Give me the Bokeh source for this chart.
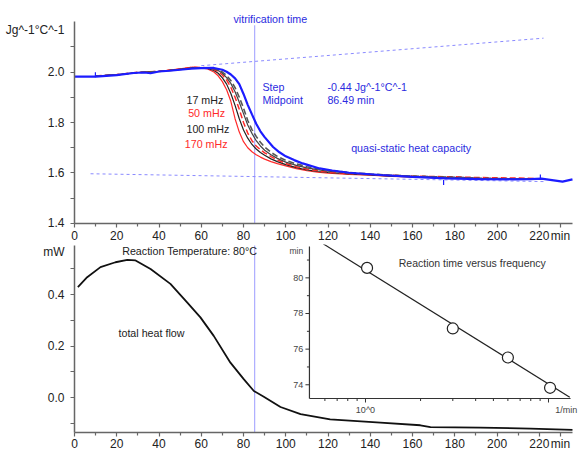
import numpy as np
from bokeh.plotting import figure
from bokeh.models import Range1d, FixedTicker, Label, LogScale, PrintfTickFormatter
from bokeh.layouts import column
from bokeh.core.properties import value
from bokeh.embed import file_html
from bokeh.resources import INLINE

FONT = "Liberation Sans"

# ---------------- data: top panel (reversing heat capacity) ----------------
t_qs = [0, 10, 20, 28, 33, 36, 40, 45, 50, 55, 60, 66, 70, 72, 74, 76, 78, 80, 82, 84, 86, 88,
        90, 94, 97, 100, 104, 108, 116, 122, 130, 145, 160, 176, 192, 208, 216, 221, 226, 231, 235.7]
cp_qs = [1.982, 1.982, 1.988, 1.996, 1.998, 1.995, 2.002, 2.005, 2.009, 2.013, 2.015, 2.016, 2.009,
         2.001, 1.990, 1.975, 1.952, 1.913, 1.870, 1.832, 1.795, 1.765, 1.742, 1.703, 1.682, 1.666,
         1.651, 1.638, 1.618, 1.610, 1.601, 1.592, 1.585, 1.579, 1.576, 1.575, 1.576, 1.578, 1.572,
         1.566, 1.575]

t_f = [10, 20, 30, 40, 50, 56, 60, 63, 66, 68, 70, 72, 74, 76, 78, 80, 82, 84, 86, 88, 90, 93, 96,
       100, 105, 110, 115, 120, 130, 140, 150, 160, 170, 180, 190, 200, 210, 218]
cp_17 = [1.984, 1.989, 1.998, 2.002, 2.010, 2.015, 2.016, 2.016, 2.014, 2.009, 2.000, 1.986, 1.966,
         1.938, 1.900, 1.857, 1.808, 1.772, 1.745, 1.722, 1.703, 1.682, 1.666, 1.650, 1.636, 1.625,
         1.617, 1.611, 1.602, 1.596, 1.591, 1.588, 1.585, 1.583, 1.580, 1.578, 1.577, 1.577]
cp_mid = [1.984, 1.989, 1.998, 2.002, 2.011, 2.016, 2.017, 2.016, 2.012, 2.006, 1.995, 1.978, 1.955,
          1.922, 1.880, 1.835, 1.790, 1.757, 1.728, 1.707, 1.690, 1.672, 1.658, 1.643, 1.630, 1.620,
          1.613, 1.607, 1.600, 1.594, 1.590, 1.587, 1.584, 1.582, 1.579, 1.578, 1.577, 1.577]
cp_50 = [1.984, 1.990, 1.999, 2.003, 2.012, 2.019, 2.018, 2.016, 2.010, 2.002, 1.988, 1.968, 1.940,
         1.900, 1.852, 1.800, 1.758, 1.728, 1.707, 1.692, 1.680, 1.665, 1.652, 1.638, 1.625, 1.616,
         1.609, 1.604, 1.598, 1.594, 1.591, 1.588, 1.586, 1.585, 1.582, 1.581, 1.580, 1.578]
cp_100 = [1.984, 1.989, 1.998, 2.002, 2.011, 2.016, 2.016, 2.014, 2.006, 1.995, 1.977, 1.952, 1.915,
          1.868, 1.815, 1.770, 1.738, 1.713, 1.695, 1.681, 1.670, 1.656, 1.645, 1.633, 1.621, 1.612,
          1.606, 1.602, 1.596, 1.592, 1.588, 1.585, 1.583, 1.581, 1.579, 1.578, 1.577, 1.576]
cp_170 = [1.984, 1.989, 1.998, 2.003, 2.013, 2.019, 2.016, 2.012, 2.000, 1.985, 1.962, 1.930, 1.884,
          1.815, 1.762, 1.724, 1.700, 1.684, 1.672, 1.663, 1.655, 1.645, 1.637, 1.628, 1.617, 1.609,
          1.603, 1.599, 1.594, 1.591, 1.587, 1.585, 1.582, 1.581, 1.579, 1.578, 1.577, 1.577]

mark_t = [9.9, 174.7, 220.5]
mark_cp = [1.989, 1.562, 1.584]

glass_line_t = [60, 222]
glass_line_cp = [2.025, 2.134]
liquid_line_t = [7.6, 222]
liquid_line_cp = [1.597, 1.566]

vitrification_time = 85.3
TOP_Y_BOUNDS = (1.4, 2.2)
vline_top_cp = [1.4, 2.185]

# ---------------- data: bottom panel (total heat flow) ----------------
t_hf = [1.6, 6.0, 12.3, 19.4, 25.0, 28.9, 36.0, 45.4, 53.3, 59.6, 65.9, 73.8, 80.1, 84.9, 89.6,
        97.5, 107, 121, 144.8, 163.7, 168.5, 192, 215.8, 235.7]
hf = [0.429, 0.468, 0.507, 0.526, 0.535, 0.533, 0.500, 0.442, 0.370, 0.312, 0.240, 0.136, 0.072,
      0.026, 0.004, -0.036, -0.064, -0.084, -0.097, -0.107, -0.114, -0.116, -0.120, -0.125]
BOT_Y_BOUNDS = (-0.137, 0.591)

# ---------------- data: inset (reaction time vs frequency) ----------------
freq = [1.02, 3.0, 6.0, 10.2]            # 1/min (17, 50, 100, 170 mHz)
reaction_time = [80.56, 77.16, 75.53, 73.83]
fit_freq = [0.587, 13.07]
fit_time = [81.91, 73.30]
inset_x_bounds = [0.494, 13.2]
inset_y_bounds = [73.23, 81.76]
inset_y_major = [74, 76, 78, 80]
inset_y_minor = [75, 77, 79, 81]
inset_x_major = [1, 10]
inset_x_minor = [0.6, 0.7, 0.8, 0.9, 2, 3, 4, 5, 6, 7, 8, 9]

# ---------------- axes ticks ----------------
x_major = list(range(0, 221, 20)) + [230]
x_minor = list(range(10, 211, 20))
x_overrides = {230: "min"}
top_y_labels = [1.4, 1.6, 1.8, 2.0, 2.168]
top_y_ticks = [1.4, 1.5, 1.6, 1.7, 1.8, 1.9, 2.0, 2.1]
top_y_overrides = {2.168: "Jg^-1°C^-1"}
bot_y_labels = [0.0, 0.2, 0.4, 0.572]
bot_y_ticks = [-0.1, 0.0, 0.1, 0.2, 0.3, 0.4, 0.5]
bot_y_overrides = {0.572: "mW"}

X_AXIS_BOUNDS = (0, 235.7)
X_START, X_END = -35.02, 239.97

BLUE_TXT = "#2b2be0"
RED = "#ff2a2a"


def style_axes(p, x_standoff, y_bounds):
    p.grid.visible = False
    p.outline_line_color = None
    p.background_fill_color = "white"
    p.border_fill_color = "white"
    for ax in p.axis:
        ax.axis_line_color = "#666666"
        ax.axis_line_width = 1.5
        ax.major_tick_line_color = "#666666"
        ax.minor_tick_line_color = "#666666"
        ax.major_tick_line_width = 1.2
        ax.minor_tick_line_width = 1.2
        ax.major_tick_in = 0
        ax.minor_tick_in = 0
        ax.major_label_text_font = FONT
        ax.major_label_text_font_size = "12px"
        ax.major_label_text_color = "#222222"
    p.xaxis.ticker = FixedTicker(ticks=x_major, minor_ticks=x_minor)
    p.xaxis.major_label_overrides = x_overrides
    p.xaxis.bounds = X_AXIS_BOUNDS
    p.xaxis.fixed_location = y_bounds[0]
    p.xaxis.major_tick_out = 4
    p.xaxis.minor_tick_out = 3
    p.xaxis.major_label_standoff = x_standoff
    # y axes: tick marks drawn as minor ticks, labels carried by (invisible) major ticks
    p.yaxis.bounds = y_bounds
    p.yaxis.fixed_location = X_AXIS_BOUNDS[0]
    p.yaxis.major_tick_out = 0
    p.yaxis.major_tick_line_color = None
    p.yaxis.minor_tick_out = 4
    p.yaxis.major_label_standoff = 6
    p.yaxis.formatter = PrintfTickFormatter(format="%.1f")


def label(p, x, y, text, color="#222222", size="10.7px", align="left", **kw):
    p.add_layout(Label(x=x, y=y, text=text, text_color=color, text_font=FONT,
                       text_font_size=size, text_align=align, text_baseline="middle", **kw))


# ================= top figure =================
x_rng = Range1d(X_START, X_END)
top = figure(width=581, height=244, x_range=x_rng, y_range=Range1d(1.3168, 2.2832),
             output_backend="svg", toolbar_location=None,
             min_border_left=0, min_border_right=0, min_border_top=0, min_border_bottom=0)
style_axes(top, 2, TOP_Y_BOUNDS)
top.yaxis.ticker = FixedTicker(ticks=top_y_labels, minor_ticks=top_y_ticks)
top.yaxis.major_label_overrides = top_y_overrides

top.line([vitrification_time] * 2, vline_top_cp, line_color="#9c9cff", line_width=1)
top.line(glass_line_t, glass_line_cp, line_color="#8a8aff", line_width=1, line_dash="3 3")
top.line(liquid_line_t, liquid_line_cp, line_color="#8a8aff", line_width=1, line_dash="3 3")

top.line(t_f, cp_170, line_color=RED, line_width=1.2)
top.line(t_f, cp_100, line_color="#222222", line_width=1.2)
top.line(t_f, cp_50, line_color=RED, line_width=1.5, line_dash="6 3")
top.line(t_f, cp_mid, line_color="#444444", line_width=1.2)
top.line(t_f, cp_17, line_color="#555555", line_width=1.6, line_dash="6 3")
top.line(t_qs, cp_qs, line_color="#1c1cff", line_width=2.2)
top.scatter(mark_t, mark_cp, marker="dash", angle=np.pi / 2, size=5,
            line_color="#1c1cff", line_width=1.2)

label(top, 75.25, 2.208, "vitrification time", color=BLUE_TXT)
label(top, 88.97, 1.940, "Step", color=BLUE_TXT)
label(top, 88.97, 1.890, "Midpoint", color=BLUE_TXT)
label(top, 119.7, 1.940, "-0.44 Jg^-1°C^-1", color=BLUE_TXT)
label(top, 119.7, 1.890, "86.49 min", color=BLUE_TXT)
label(top, 130.95, 1.700, "quasi-static heat capacity", color=BLUE_TXT)
label(top, 53.0, 1.891, "17 mHz", color="#222222")
label(top, 53.8, 1.837, "50 mHz", color=RED)
label(top, 53.0, 1.776, "100 mHz", color="#222222")
label(top, 52.2, 1.713, "170 mHz", color=RED)

# ================= bottom figure =================
bot = figure(width=581, height=206, x_range=x_rng, y_range=Range1d(-0.2050, 0.5949),
             output_backend="svg", toolbar_location=None,
             min_border_left=0, min_border_right=0, min_border_top=0, min_border_bottom=0)
style_axes(bot, 0, BOT_Y_BOUNDS)
bot.yaxis.ticker = FixedTicker(ticks=bot_y_labels, minor_ticks=bot_y_ticks)
bot.yaxis.major_label_overrides = bot_y_overrides

bot.line([vitrification_time] * 2, list(BOT_Y_BOUNDS), line_color="#9c9cff", line_width=1)
bot.line(t_hf, hf, line_color="#111111", line_width=1.8)

label(bot, 22.57, 0.570, "Reaction Temperature: 80°C")
label(bot, 20.82, 0.253, "total heat flow")

# ---- inset drawn on named extra ranges of the bottom frame ----
bot.extra_x_ranges = {"inset": Range1d(0.010127, 15.15)}
bot.extra_x_scales = {"inset": LogScale()}
bot.extra_y_ranges = {"inset": Range1d(70.312, 81.872)}
ins = dict(x_range_name="inset", y_range_name="inset")
AX = "#333333"

bot.line([inset_x_bounds[0]] * 2, inset_y_bounds, line_color=AX, line_width=1.2, **ins)
bot.line(inset_x_bounds, [inset_y_bounds[0]] * 2, line_color=AX, line_width=1.2, **ins)
bot.ray(x=[inset_x_bounds[0]] * len(inset_y_major), y=inset_y_major, length=4,
        length_units="screen", angle=np.pi, line_color=AX, line_width=1, **ins)
bot.ray(x=[inset_x_bounds[0]] * len(inset_y_minor), y=inset_y_minor, length=2.5,
        length_units="screen", angle=np.pi, line_color=AX, line_width=1, **ins)
bot.ray(x=inset_x_major, y=[inset_y_bounds[0]] * len(inset_x_major), length=4,
        length_units="screen", angle=-np.pi / 2, line_color=AX, line_width=1, **ins)
bot.ray(x=inset_x_minor, y=[inset_y_bounds[0]] * len(inset_x_minor), length=2.5,
        length_units="screen", angle=-np.pi / 2, line_color=AX, line_width=1, **ins)
bot.text(x=[0.4566] * len(inset_y_major), y=inset_y_major, text=[str(v) for v in inset_y_major],
         text_font=value(FONT), text_font_size="9px", text_color="#444444",
         text_align="right", text_baseline="middle", **ins)

bot.line(fit_freq, fit_time, line_color="#222222", line_width=1.2, **ins)
bot.scatter(freq, reaction_time, marker="circle", size=11, fill_color="white",
            line_color="#222222", line_width=1.2, **ins)

label(bot, 0.4566, 81.48, "min", color="#444444", size="8.5px", align="right", **ins)
label(bot, 1.0, 72.56, "10^0", color="#444444", size="9px", align="center", **ins)
label(bot, 10.9, 72.56, "1/min", color="#444444", size="9px", **ins)
label(bot, 1.52, 80.86, "Reaction time versus frequency", color="#333333", size="10.5px", **ins)

layout = column(top, bot)
open("out.html", "w").write(file_html(layout, INLINE))
